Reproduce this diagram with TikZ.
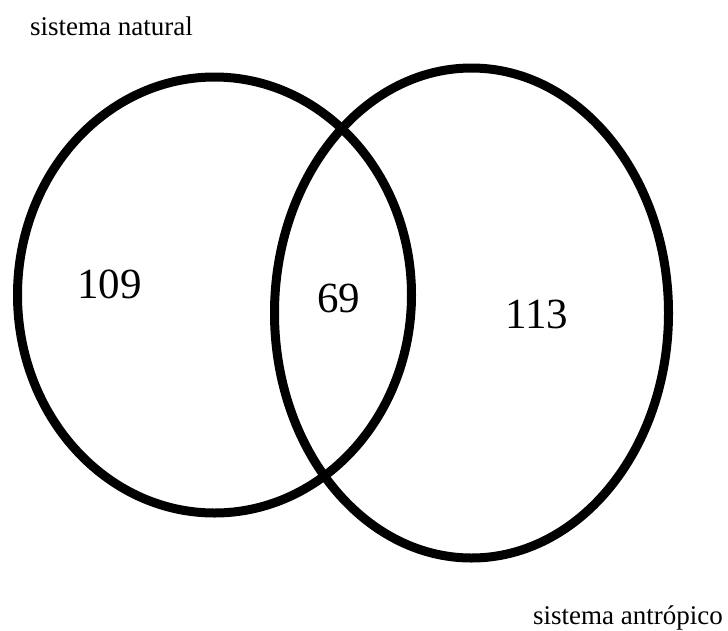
\documentclass[tikz,border=0pt]{standalone}
\usepackage{fontspec}
\setmainfont{Liberation Serif}
\begin{document}
\begin{tikzpicture}[x=1pt,y=-1pt,
  ring/.style={draw=black,line width=9pt},
  lbl/.style={inner sep=0pt,anchor=base west,font=\fontsize{27}{30}\selectfont},
  num/.style={inner sep=0pt,anchor=base west,font=\fontsize{43}{48}\selectfont}]
\useasboundingbox (0,0) rectangle (728,630);
\draw[ring] (214.5,295) ellipse [x radius=197, y radius=218];
\draw[ring] (471.5,313) ellipse [x radius=197, y radius=245];
\node[lbl] (nat) at (30,35) {sistema natural};
\node[lbl] (ant) at (533,624) {sistema antrópico};
\node[num] (a) at (77,298) {109};
\node[num] (b) at (317,312) {69};
\node[num] (c) at (505,328) {113};
\end{tikzpicture}
\end{document}
